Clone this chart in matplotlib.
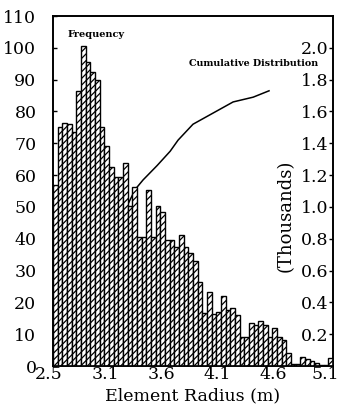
import matplotlib
matplotlib.use("Agg")
import matplotlib.pyplot as plt
import matplotlib.transforms as mtransforms
import numpy as np

# ---- data ----
frequency = [57, 75, 76.5, 76, 73.5, 86.5, 100.5, 95.5, 92.5, 90,
             75, 69, 62.5, 59.5, 59.5, 63.8, 50.3, 56.3, 40.7, 40.7,
             55.3, 40.7, 50.3, 48.5, 39.6, 39.6, 37.5, 41.2, 37.5, 35.5,
             33, 26.5, 16.8, 23.4, 16.3, 17, 22, 17.6, 18.2, 16,
             9.2, 9.2, 13.5, 12.9, 14.2, 12.9, 9.2, 12, 9.2, 8.2,
             4, 0.5, 0.5, 3, 2.2, 1.6, 1.0, 0.4, 0.4, 2.5]
cum_x = [0, 5, 10, 13.5, 16.1, 17.6, 19.3, 22.3, 25.1, 26.8, 30.0, 34.3, 38.6, 42.9, 46.3]
cum_thousands = [0.0, 0.3, 0.6, 0.85, 1.02, 1.11, 1.17, 1.26, 1.35, 1.42, 1.52, 1.59, 1.66, 1.69, 1.73]
x_tick_labels = ["2.5", "3.1", "3.6", "4.1", "4.6", "5.1"]
left_ticks = [0, 10, 20, 30, 40, 50, 60, 70, 80, 90, 100, 110]
right_ticks = [0.2, 0.4, 0.6, 0.8, 1.0, 1.2, 1.4, 1.6, 1.8, 2.0]

plt.rcParams['font.family'] = ['DejaVu Serif']
plt.rcParams['hatch.linewidth'] = 0.9

fig = plt.figure(figsize=(3.38, 4.16), dpi=100)
ax = fig.add_axes([0.157, 0.120, 0.828, 0.8415])
n = len(frequency)
idx = np.arange(n)

ax2 = ax.twinx()
ax2.set_ylim(0, 2.2)
ax2.plot(cum_x, cum_thousands, color='black', lw=1.1, zorder=1)
ax2.set_zorder(0)
ax.set_zorder(1)
ax.patch.set_visible(False)

ax.bar(idx, frequency, width=1.0, align='edge', facecolor='white',
       edgecolor='black', linewidth=1.0, hatch='/////', zorder=2)
ax.set_xlim(0, n)
ax.set_ylim(0, 110)

ax.set_yticks(left_ticks)
ax.set_yticklabels([str(v) for v in left_ticks])
ax.tick_params(axis='y', direction='in', length=3, width=1, pad=12, labelsize=12.5)
ax.set_xticks(np.linspace(0, n, len(x_tick_labels)))
ax.set_xticklabels(x_tick_labels)
ax.tick_params(axis='x', direction='in', length=0, pad=0, labelsize=12.5)
xlabs = ax.get_xticklabels()
for k, lab in enumerate(xlabs):
    dx = -8 if k == len(xlabs) - 1 else -4
    shift = mtransforms.ScaledTranslation(dx / 100, 0, fig.dpi_scale_trans)
    lab.set_transform(lab.get_transform() + shift)

ax2.set_yticks(right_ticks)
ax2.set_yticklabels([f"{v:.1f}" for v in right_ticks])
ax2.tick_params(axis='y', direction='in', length=3, width=1, pad=-3, labelsize=12.5)
for lab in ax2.get_yticklabels():
    lab.set_horizontalalignment('right')

for a in (ax, ax2):
    for s in a.spines.values():
        s.set_linewidth(1.2)

ax.set_xlabel("Element Radius (m)", fontsize=12.5, labelpad=3)
ax.text(0.05, 0.946, "Frequency", transform=ax.transAxes, fontsize=7,
        fontweight='bold', va='center', ha='left')
ax.text(0.485, 0.863, "Cumulative Distribution", transform=ax.transAxes,
        fontsize=6.8, fontweight='bold', va='center', ha='left')
ax.text(0.832, 0.43, "(Thousands)", transform=ax.transAxes, fontsize=13,
        rotation=90, va='center', ha='center')

fig.savefig("out.png", dpi=100)
